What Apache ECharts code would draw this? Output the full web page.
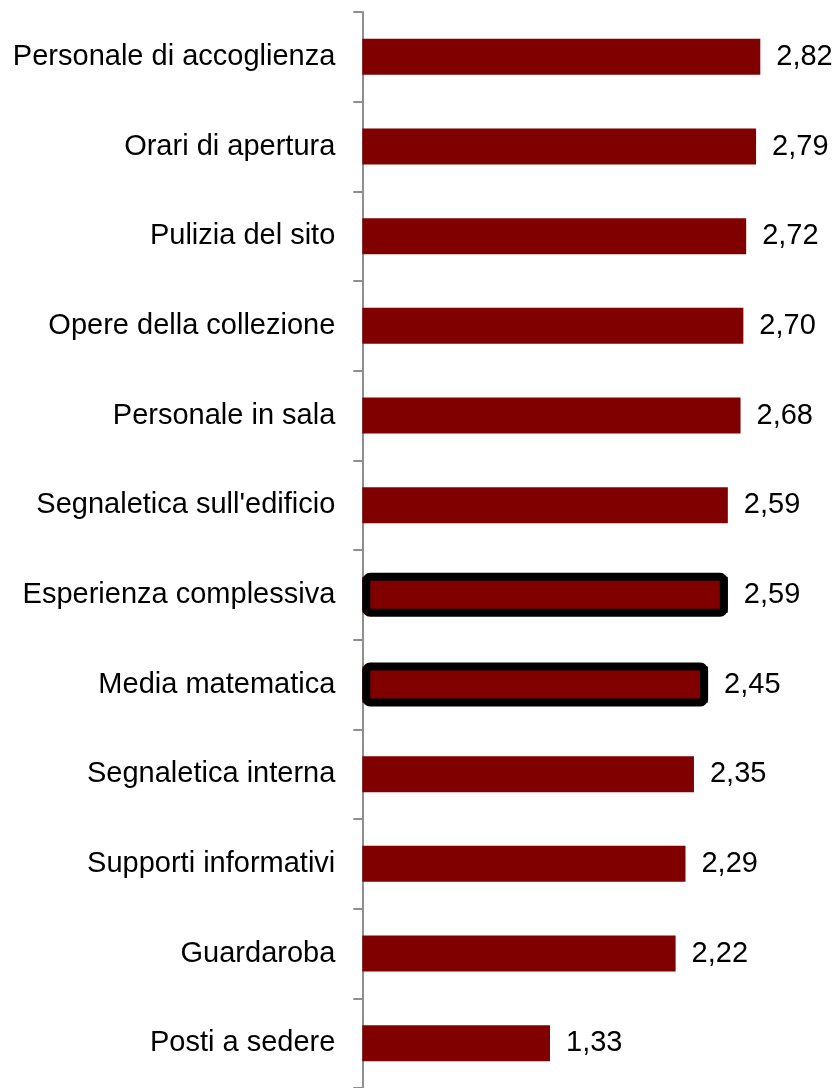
<!DOCTYPE html>
<html>
<head>
<meta charset="utf-8">
<style>
html,body{margin:0;padding:0;background:#fff;}
#chart{width:838px;height:1088px;}
</style>
<script src="https://cdn.jsdelivr.net/npm/echarts@6/dist/echarts.min.js"></script>
</head>
<body>
<div id="chart"></div>
<script>
const categories = [
  "Personale di accoglienza",
  "Orari di apertura",
  "Pulizia del sito",
  "Opere della collezione",
  "Personale in sala",
  "Segnaletica sull'edificio",
  "Esperienza complessiva",
  "Media matematica",
  "Segnaletica interna",
  "Supporti informativi",
  "Guardaroba",
  "Posti a sedere"
];
const values = [2.82, 2.79, 2.72, 2.70, 2.68, 2.59, 2.59, 2.45, 2.35, 2.29, 2.22, 1.33];
const highlighted = ["Esperienza complessiva", "Media matematica"];

const chart = echarts.init(document.getElementById('chart'));
const outlineData = values.map((v, i) => highlighted.includes(categories[i]) ? v : null);

const catAxisBase = {
  type: 'category',
  data: categories,
  inverse: true,
  boundaryGap: true
};

chart.setOption({
  animation: false,
  backgroundColor: '#fff',
  grid: { left: 362.3, width: 423.4, top: 12, height: 1081, containLabel: false },
  xAxis: {
    type: 'value', min: 0, max: 3, show: false
  },
  yAxis: [
    Object.assign({}, catAxisBase, {
      axisLine: { show: true, lineStyle: { color: '#8f8f8f', width: 2 } },
      axisTick: { show: true, length: 9, lineStyle: { color: '#8f8f8f', width: 2 } },
      axisLabel: { color: '#000', fontSize: 29, fontFamily: 'Liberation Sans, Arial, sans-serif', margin: 27 },
      splitLine: { show: false }
    }),
    Object.assign({}, catAxisBase, { show: false, position: 'left' })
  ],
  series: [{
    type: 'bar',
    data: values,
    yAxisIndex: 0,
    barWidth: 36,
    z: 2,
    itemStyle: { color: '#800000' },
    label: {
      show: true,
      position: 'right',
      distance: 16,
      color: '#000',
      fontSize: 29,
      fontFamily: 'Liberation Sans, Arial, sans-serif',
      formatter: p => p.value.toFixed(2).replace('.', ',')
    }
  }, {
    type: 'bar',
    data: outlineData,
    yAxisIndex: 1,
    barWidth: 44,
    z: 3,
    silent: true,
    itemStyle: { color: 'rgba(0,0,0,0)', borderColor: '#000', borderWidth: 8, borderJoin: 'round', borderRadius: 4 },
    label: { show: false }
  }]
});
</script>
</body>
</html>
